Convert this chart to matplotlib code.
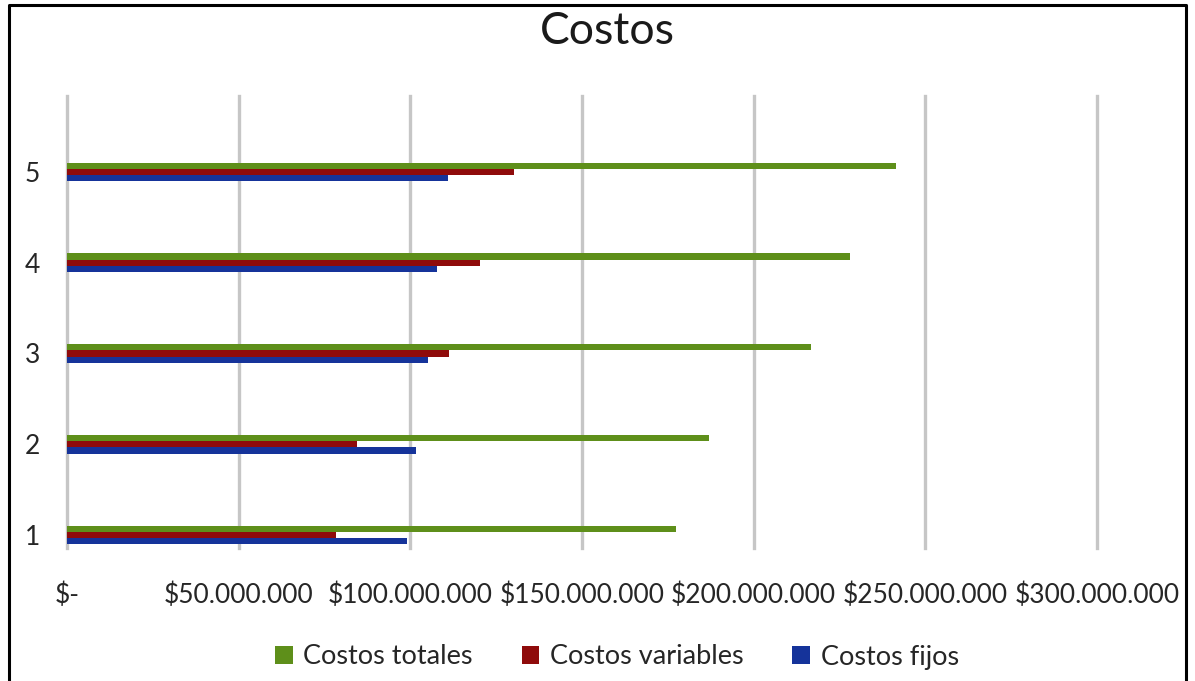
import matplotlib
matplotlib.use("Agg")
import matplotlib.pyplot as plt
from matplotlib.lines import Line2D
from matplotlib.patches import Patch
from matplotlib.ticker import FuncFormatter, MultipleLocator
import numpy as np

plt.rcParams['font.family'] = ['Lato', 'DejaVu Sans']

# Chart data (pesos)
categorias = ["1", "2", "3", "4", "5"]
costos_fijos = [98_900_000, 101_700_000, 105_100_000, 107_800_000, 111_000_000]
costos_variables = [78_400_000, 84_500_000, 111_300_000, 120_200_000, 130_200_000]
costos_totales = [177_500_000, 187_000_000, 216_600_000, 228_200_000, 241_600_000]

serie_nombres = ["Costos totales", "Costos variables", "Costos fijos"]
color_totales = "#5e8f1a"
color_variables = "#8f0b0b"
color_fijos = "#15339a"

W, H = 1195, 681
fig = plt.figure(figsize=(W / 100, H / 100), dpi=100)
fig.patch.set_facecolor("white")

ax = fig.add_axes([67 / W, 1 - 548 / H, (1097 - 67) / W, (548 - 96) / H])

y = np.arange(len(categorias))
h = 0.068
ax.barh(y - h, costos_fijos, height=h, color=color_fijos, zorder=3)
ax.barh(y, costos_variables, height=h, color=color_variables, zorder=3)
ax.barh(y + h, costos_totales, height=h, color=color_totales, zorder=3)

ax.set_xlim(0, 300_000_000)
ax.set_ylim(-0.143, len(categorias) - 1 + 0.837)
ax.xaxis.set_major_locator(MultipleLocator(50_000_000))


def pesos(v, pos):
    if v == 0:
        return "$-"
    return "$" + f"{int(v):,}".replace(",", ".")


ax.xaxis.set_major_formatter(FuncFormatter(pesos))
ax.set_yticks(y)
ax.set_yticklabels(categorias)

ax.grid(axis="x", color="#c6c6c6", linewidth=2.4, zorder=0)
for g in ax.get_xgridlines():
    g.set_clip_on(False)
for s in ax.spines.values():
    s.set_visible(False)
ax.tick_params(axis="both", length=0, labelsize=19, colors="#262626")
ax.tick_params(axis="x", pad=25)
ax.tick_params(axis="y", pad=19.5)

fig.text(607 / W, 1 - 31 / H, "Costos", ha="center", va="center",
         fontsize=32, color="#1a1a1a")

handles = [Patch(facecolor=color_totales, label=serie_nombres[0]),
           Patch(facecolor=color_variables, label=serie_nombres[1]),
           Patch(facecolor=color_fijos, label=serie_nombres[2])]
fig.legend(handles=handles, loc="center", bbox_to_anchor=(617 / W, 1 - 657 / H),
           ncol=3, frameon=False, fontsize=19.5, handlelength=0.65,
           handleheight=0.65, handletextpad=0.4, columnspacing=1.8,
           labelcolor="#262626")

# Outer chart frame (open at the bottom)
fig.add_artist(Line2D([9 / W, 9 / W, 1186 / W, 1186 / W],
                      [0, 1 - 5 / H, 1 - 5 / H, 0],
                      transform=fig.transFigure, color="black", linewidth=2.2))

fig.savefig("out.png", dpi=100)
